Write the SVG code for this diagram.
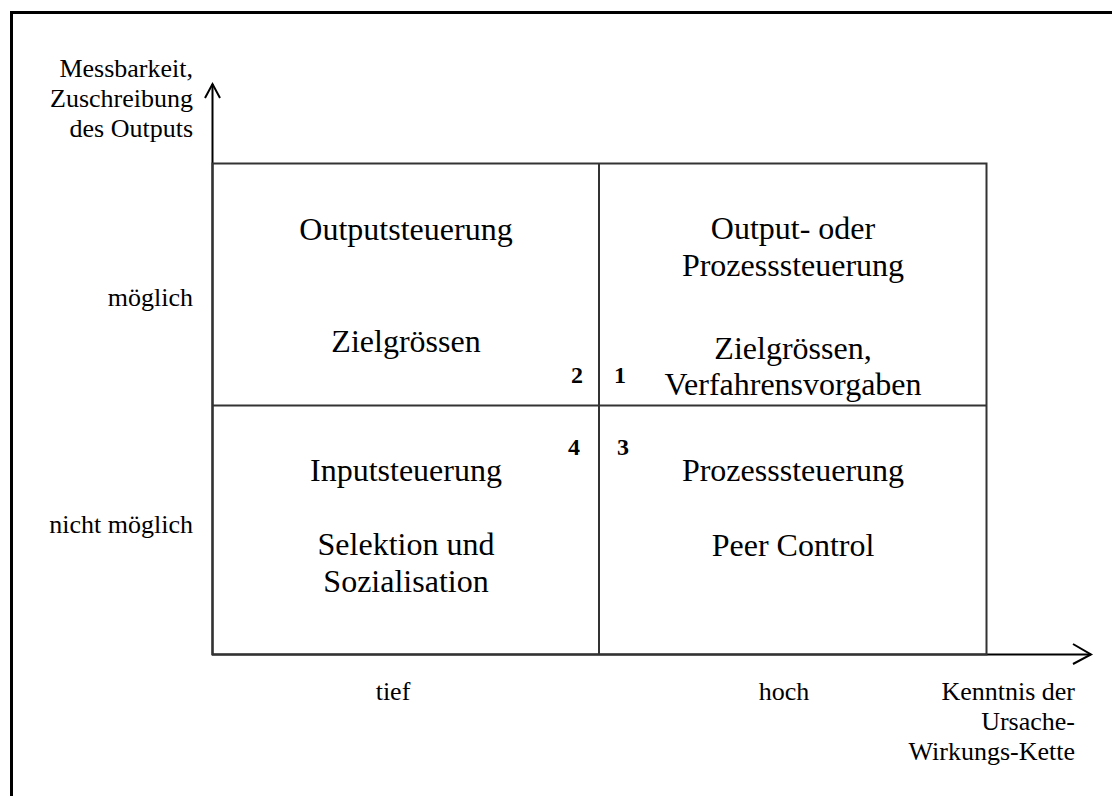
<svg xmlns="http://www.w3.org/2000/svg" width="1112" height="796" viewBox="0 0 1112 796">
<style>
text{font-family:"Liberation Serif","Times New Roman",serif;fill:#000}
.q{font-size:32px;text-anchor:middle}
.a{font-size:26px}
.r{text-anchor:end}
.m{text-anchor:middle}
.n{font-size:24px;font-weight:bold}
.grid{fill:none;stroke:#333;stroke-width:2}
.ax{fill:none;stroke:#000;stroke-width:2}
</style>
<rect x="0" y="0" width="1112" height="796" fill="#fff"/>
<path d="M11.5,800 V12.5 H1115" fill="none" stroke="#000" stroke-width="3"/>
<g id="connectors">
<path class="ax" d="M212.5,655 V84"/>
<path class="ax" d="M205,98 L212.5,84 L220,98"/>
<path class="ax" d="M212,654.5 H1091"/>
<path class="ax" d="M1073,644 L1091,654.5 L1073,664"/>
</g>
<g id="grid">
<rect class="grid" x="212.5" y="163.5" width="774" height="491"/>
<line class="grid" x1="599" y1="163.5" x2="599" y2="654.5"/>
<line class="grid" x1="212.5" y1="405.5" x2="986.5" y2="405.5"/>
</g>
<g id="q2">
<text class="q" x="406" y="240">Outputsteuerung</text>
<text class="q" x="406" y="352">Zielgrössen</text>
<text class="n r" x="583" y="383">2</text>
</g>
<g id="q1">
<text class="q" x="793" y="239">Output- oder</text>
<text class="q" x="793" y="276">Prozesssteuerung</text>
<text class="q" x="793" y="359">Zielgrössen,</text>
<text class="q" x="793" y="395">Verfahrensvorgaben</text>
<text class="n" x="614" y="383">1</text>
</g>
<g id="q4">
<text class="q" x="406" y="481">Inputsteuerung</text>
<text class="q" x="406" y="555">Selektion und</text>
<text class="q" x="406" y="592">Sozialisation</text>
<text class="n r" x="580" y="455">4</text>
</g>
<g id="q3">
<text class="q" x="793" y="481">Prozesssteuerung</text>
<text class="q" x="793" y="556">Peer Control</text>
<text class="n" x="617" y="455">3</text>
</g>
<g id="y-label">
<text class="a r" x="193" y="77">Messbarkeit,</text>
<text class="a r" x="193" y="107">Zuschreibung</text>
<text class="a r" x="193" y="137">des Outputs</text>
<text class="a r" x="193" y="306">möglich</text>
<text class="a r" x="193" y="533">nicht möglich</text>
</g>
<g id="x-label">
<text class="a m" x="393" y="700">tief</text>
<text class="a m" x="784" y="700">hoch</text>
<text class="a r" x="1075" y="700">Kenntnis der</text>
<text class="a r" x="1075" y="730">Ursache-</text>
<text class="a r" x="1075" y="760">Wirkungs-Kette</text>
</g>
</svg>
